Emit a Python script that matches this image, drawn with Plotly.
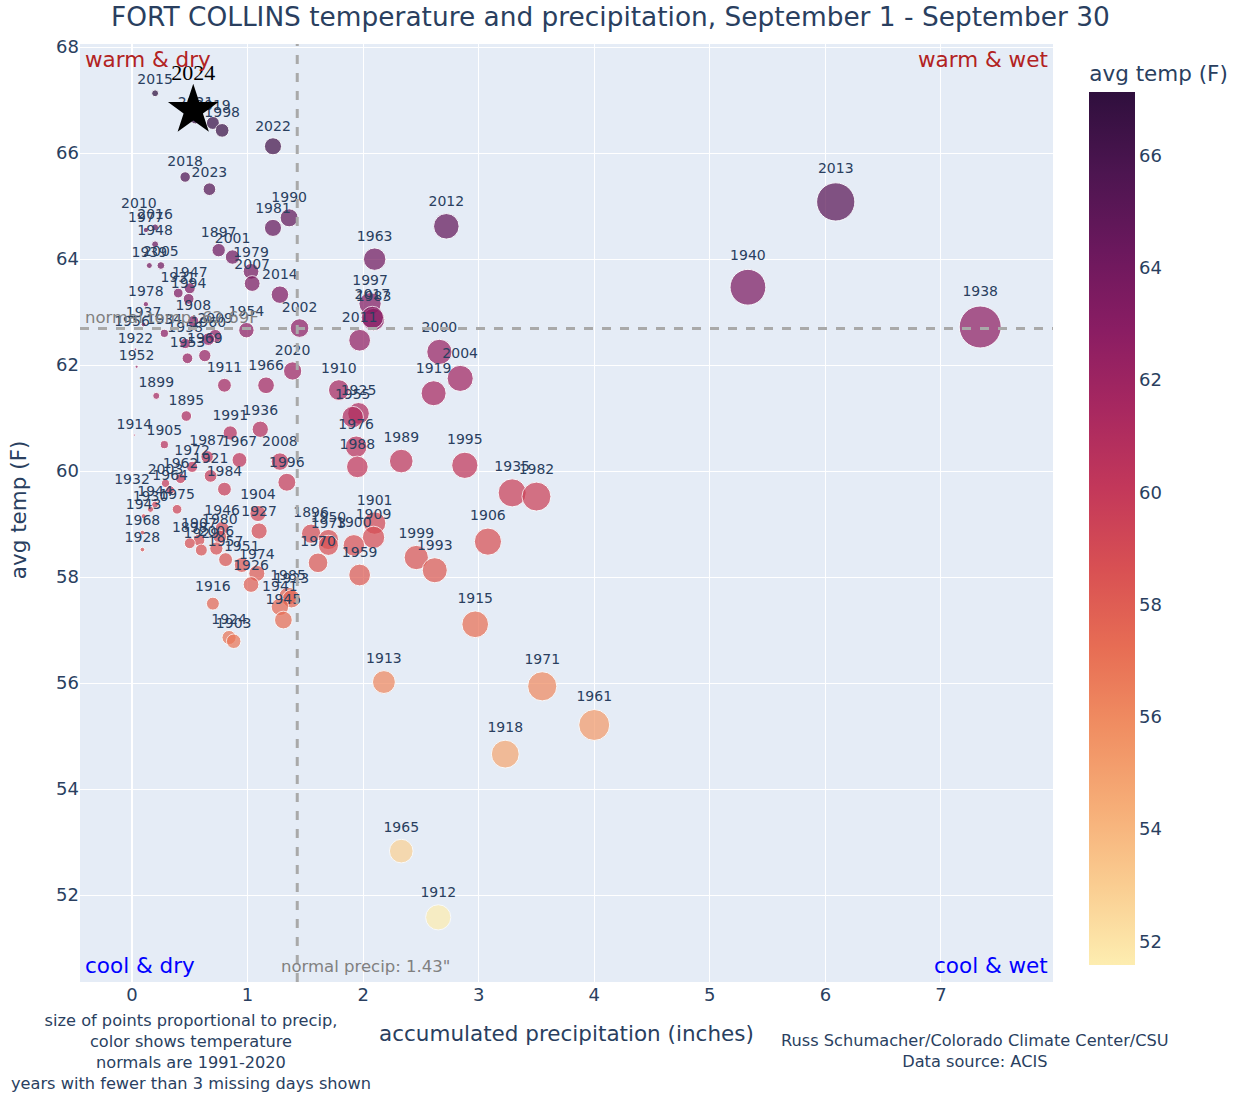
import plotly.graph_objects as go

years = ["2015","2021","2019","1998","2022","2018","2023","1990","1981","2010","2016","1977","1948",
         "1897","2001","1979","2007","2014","1963","2012","1997","1983","2017","2011","2002","1954",
         "2000","2004","2020","1966","1911","1910","1919","1925","1955","1976","1988","1989","1995",
         "1935","1982","1906","1999","1993","1901","1909","1900","1896","1950","1973","1970","1959",
         "1915","1913","1971","1961","1918","1965","1912","2013","1940","1938",
         "1939","2005","1931","1947","1994","1978","1908","1937","1956","2009","1960","1969","1958",
         "1934","1953","1922","1952","1899","1895","1914","1991","1936","1905","1987","1967","2008",
         "1996","1972","1921","1984","2003","1962","1932","1964","1944","1930","1975","1943","1968",
         "1928","1904","1927","1946","1980","1907","1898","1929","2006","1957","1951","1974","1926",
         "1916","1924","1903","1985","1923","1941","1945"]
precip = [0.20,0.55,0.70,0.78,1.22,0.46,0.67,1.36,1.22,0.06,0.20,0.12,0.20,
          0.75,0.87,1.03,1.04,1.28,2.10,2.72,2.06,2.09,2.08,1.97,1.45,0.99,
          2.66,2.84,1.39,1.16,0.80,1.79,2.61,1.96,1.91,1.94,1.95,2.33,2.88,
          3.29,3.50,3.08,2.46,2.62,2.10,2.09,1.92,1.55,1.70,1.70,1.61,1.97,
          2.97,2.18,3.55,4.00,3.23,2.33,2.65,6.09,5.33,7.34,
          0.15,0.25,0.40,0.50,0.49,0.12,0.53,0.10,0.00,0.72,0.66,0.63,0.46,
          0.28,0.48,0.03,0.04,0.21,0.47,0.02,0.85,1.11,0.28,0.65,0.93,1.28,
          1.34,0.52,0.68,0.80,0.29,0.42,0.00,0.33,0.20,0.16,0.39,0.10,0.09,
          0.09,1.09,1.10,0.78,0.76,0.58,0.50,0.60,0.73,0.81,0.95,1.08,1.03,
          0.70,0.84,0.88,1.35,1.38,1.28,1.31]
temp = [67.13,66.66,66.57,66.43,66.13,65.55,65.32,64.78,64.59,64.83,64.60,64.55,64.28,
        64.17,64.04,63.77,63.54,63.33,64.00,64.62,63.16,62.86,62.90,62.47,62.70,62.66,
        62.25,61.75,61.89,61.62,61.62,61.53,61.47,61.09,61.02,60.46,60.08,60.19,60.11,
        59.59,59.52,58.67,58.37,58.13,59.02,58.75,58.60,58.82,58.71,58.60,58.27,58.04,
        57.11,56.02,55.94,55.21,54.66,52.83,51.58,65.08,63.47,62.72,
        63.88,63.88,63.36,63.45,63.25,63.15,62.83,62.77,62.68,62.55,62.49,62.18,62.41,
        62.60,62.13,62.30,61.97,61.42,61.04,60.68,60.72,60.79,60.50,60.27,60.21,60.18,
        59.79,60.08,59.91,59.66,59.77,59.86,59.70,59.64,59.37,59.28,59.28,59.15,58.84,
        58.52,59.20,58.87,58.92,58.76,58.70,58.64,58.51,58.54,58.33,58.23,58.07,57.86,
        57.50,56.86,56.79,57.64,57.59,57.44,57.19]

year_now = ["2024"]
precip_now = [0.53]
temp_now = [66.81]

normal_precip = 1.43
normal_temp = 62.69

FONT = "DejaVu Sans"
TXT = "#2a3f5f"
size_max = 42
sizeref = 2.0 * max(precip) / size_max ** 2

fig = go.Figure()
fig.add_trace(go.Scatter(
    x=precip, y=temp, text=years, mode="markers+text",
    textposition="top center",
    textfont=dict(size=14, color=TXT),
    marker=dict(size=precip, sizemode="area", sizeref=sizeref, sizemin=0,
                color=temp, colorscale="matter", opacity=0.72,
                line=dict(color="white", width=1),
                colorbar=dict(title=dict(text="avg temp (F)", font=dict(size=21.5)),
                              tickfont=dict(size=18), x=1.027, thickness=46,
                              len=0.984, y=0.4995, yanchor="middle",
                              outlinewidth=0)),
    showlegend=False, hoverinfo="x+y+text"))

fig.add_trace(go.Scatter(
    x=precip_now, y=temp_now, text=year_now, mode="markers+text",
    textposition="top center",
    textfont=dict(size=22, color="black", family="Liberation Serif"),
    marker=dict(symbol="star", size=38, color="black"),
    showlegend=False))

fig.add_vline(x=normal_precip, line=dict(color="darkgray", width=3, dash="dash"))
fig.add_hline(y=normal_temp, line=dict(color="darkgray", width=3, dash="dash"))

ann = [
    dict(text="normal temp: 62.69F", x=0.003, xref="paper", y=normal_temp, yref="y",
         xanchor="left", yanchor="bottom", showarrow=False, font=dict(size=16.5, color="gray")),
    dict(text='normal precip: 1.43"', x=1.27, xref="x", y=0.017, yref="paper",
         xanchor="left", yanchor="middle", showarrow=False, font=dict(size=16.5, color="gray")),
    dict(text="warm &amp; dry", x=0.003, y=0.983, xref="paper", yref="paper", xanchor="left",
         yanchor="middle", showarrow=False, font=dict(size=21.5, color="firebrick")),
    dict(text="warm &amp; wet", x=0.997, y=0.983, xref="paper", yref="paper", xanchor="right",
         yanchor="middle", showarrow=False, font=dict(size=21.5, color="firebrick")),
    dict(text="cool &amp; dry", x=0.003, y=0.018, xref="paper", yref="paper", xanchor="left",
         yanchor="middle", showarrow=False, font=dict(size=21.5, color="blue")),
    dict(text="cool &amp; wet", x=0.997, y=0.018, xref="paper", yref="paper", xanchor="right",
         yanchor="middle", showarrow=False, font=dict(size=21.5, color="blue")),
    dict(text="size of points proportional to precip,<br>color shows temperature<br>normals are 1991-2020<br>years with fewer than 3 missing days shown",
         x=0.114, y=-0.0746, xref="paper", yref="paper", xanchor="center", yanchor="middle",
         showarrow=False, font=dict(size=16.2, color=TXT)),
    dict(text="Russ Schumacher/Colorado Climate Center/CSU<br>Data source: ACIS",
         x=0.92, y=-0.074, xref="paper", yref="paper", xanchor="center", yanchor="middle",
         showarrow=False, font=dict(size=16.2, color=TXT)),
    dict(text="accumulated precipitation (inches)", x=0.4995, y=-0.0544, xref="paper", yref="paper",
         xanchor="center", yanchor="middle", showarrow=False, font=dict(size=21.5, color=TXT)),
    dict(text="avg temp (F)", x=-0.0637, y=0.503, xref="paper", yref="paper", textangle=-90,
         xanchor="center", yanchor="middle", showarrow=False, font=dict(size=21.5, color=TXT)),
]

fig.update_layout(
    width=1235, height=1096,
    template="plotly",
    font=dict(family=FONT, color=TXT),
    margin=dict(l=80, r=182, t=44, b=114, autoexpand=False),
    title=dict(text="FORT COLLINS temperature and precipitation, September 1 - September 30",
               x=0.4943, xanchor="center", y=0.9845, yanchor="middle", font=dict(size=26.4)),
    xaxis=dict(range=[-0.45, 7.97], dtick=1, tickfont=dict(size=18)),
    yaxis=dict(range=[50.36, 68.06], dtick=2, tickfont=dict(size=18)),
    annotations=ann,
)

fig.write_html("out.html", config={"displayModeBar": False},
               post_script="document.body.style.margin='0';")
